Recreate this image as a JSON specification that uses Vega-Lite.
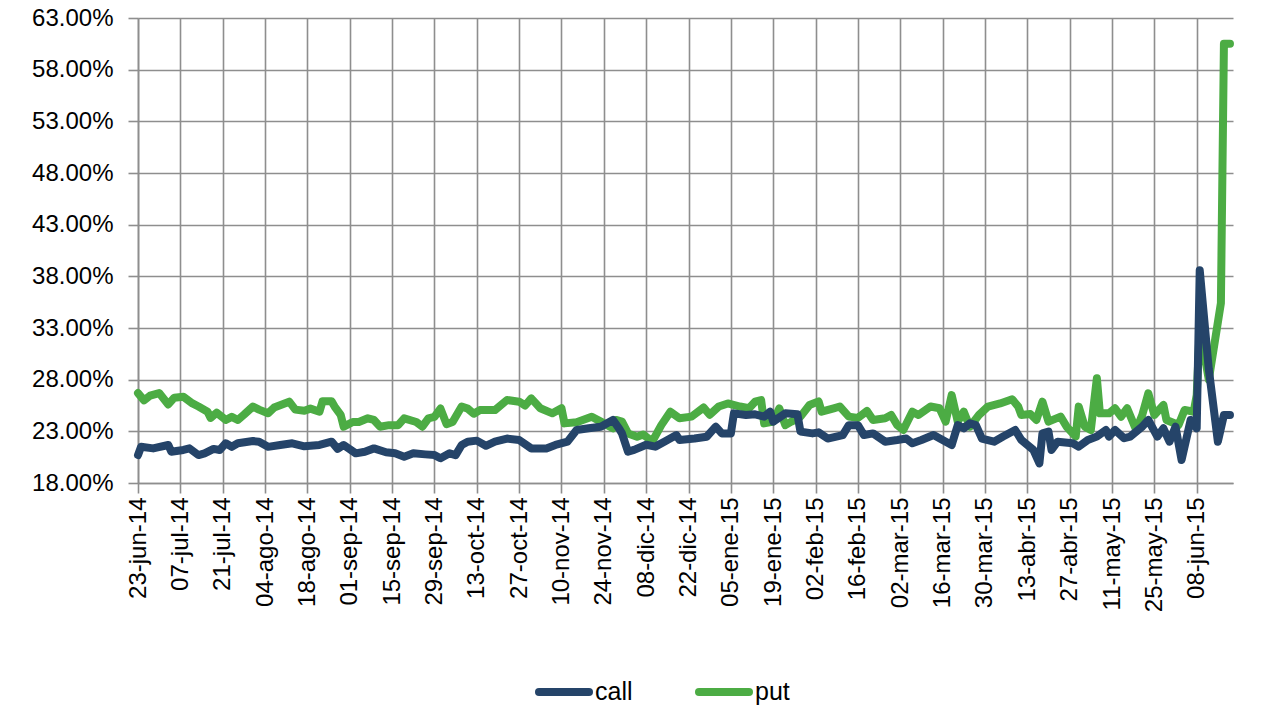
{
  "$schema": "https://vega.github.io/schema/vega-lite/v6.json",
  "autosize": {"type": "none"},
  "padding": {"left": 138, "top": 18, "right": 29, "bottom": 224},
  "width": 1095,
  "height": 465,
  "background": "white",
  "config": {
    "locale": {"time": {"dateTime": "%A, %e de %B de %Y, %X", "date": "%d/%m/%Y", "time": "%H:%M:%S", "periods": ["AM", "PM"], "days": ["domingo", "lunes", "martes", "miércoles", "jueves", "viernes", "sábado"], "shortDays": ["dom", "lun", "mar", "mié", "jue", "vie", "sáb"], "months": ["enero", "febrero", "marzo", "abril", "mayo", "junio", "julio", "agosto", "septiembre", "octubre", "noviembre", "diciembre"], "shortMonths": ["ene", "feb", "mar", "abr", "may", "jun", "jul", "ago", "sep", "oct", "nov", "dic"]}},
    "font": "Liberation Sans",
    "view": {"stroke": null},
    "axis": {"gridColor": "#8e8e8e", "gridWidth": 1.6, "gridOpacity": 1, "domainColor": "#8e8e8e", "domainWidth": 1.6, "tickColor": "#8e8e8e", "tickWidth": 1.6, "tickSize": 10, "labelFontSize": 24, "labelColor": "#000000", "labelFlush": false, "labelOverlap": false, "title": null}
  },
  "data": {"values": [
    {"date": "2014-06-23", "series": "put", "value": 26.7},
    {"date": "2014-06-25", "series": "put", "value": 26.0},
    {"date": "2014-06-27", "series": "put", "value": 26.45},
    {"date": "2014-06-30", "series": "put", "value": 26.7},
    {"date": "2014-07-03", "series": "put", "value": 25.6},
    {"date": "2014-07-05", "series": "put", "value": 26.26},
    {"date": "2014-07-08", "series": "put", "value": 26.35},
    {"date": "2014-07-11", "series": "put", "value": 25.7},
    {"date": "2014-07-13", "series": "put", "value": 25.4},
    {"date": "2014-07-16", "series": "put", "value": 24.9},
    {"date": "2014-07-17", "series": "put", "value": 24.3},
    {"date": "2014-07-19", "series": "put", "value": 24.8},
    {"date": "2014-07-22", "series": "put", "value": 24.1},
    {"date": "2014-07-24", "series": "put", "value": 24.4},
    {"date": "2014-07-26", "series": "put", "value": 24.1},
    {"date": "2014-07-28", "series": "put", "value": 24.6},
    {"date": "2014-07-31", "series": "put", "value": 25.4},
    {"date": "2014-08-02", "series": "put", "value": 25.1},
    {"date": "2014-08-05", "series": "put", "value": 24.75},
    {"date": "2014-08-07", "series": "put", "value": 25.3},
    {"date": "2014-08-12", "series": "put", "value": 25.87},
    {"date": "2014-08-14", "series": "put", "value": 25.1},
    {"date": "2014-08-17", "series": "put", "value": 25.0},
    {"date": "2014-08-19", "series": "put", "value": 25.2},
    {"date": "2014-08-22", "series": "put", "value": 24.9},
    {"date": "2014-08-23", "series": "put", "value": 25.9},
    {"date": "2014-08-26", "series": "put", "value": 25.9},
    {"date": "2014-08-27", "series": "put", "value": 25.4},
    {"date": "2014-08-29", "series": "put", "value": 24.6},
    {"date": "2014-08-30", "series": "put", "value": 23.45},
    {"date": "2014-09-02", "series": "put", "value": 23.9},
    {"date": "2014-09-04", "series": "put", "value": 23.9},
    {"date": "2014-09-07", "series": "put", "value": 24.26},
    {"date": "2014-09-09", "series": "put", "value": 24.1},
    {"date": "2014-09-11", "series": "put", "value": 23.45},
    {"date": "2014-09-14", "series": "put", "value": 23.6},
    {"date": "2014-09-17", "series": "put", "value": 23.6},
    {"date": "2014-09-19", "series": "put", "value": 24.26},
    {"date": "2014-09-23", "series": "put", "value": 23.9},
    {"date": "2014-09-25", "series": "put", "value": 23.45},
    {"date": "2014-09-27", "series": "put", "value": 24.26},
    {"date": "2014-09-29", "series": "put", "value": 24.4},
    {"date": "2014-10-01", "series": "put", "value": 25.2},
    {"date": "2014-10-03", "series": "put", "value": 23.7},
    {"date": "2014-10-05", "series": "put", "value": 23.9},
    {"date": "2014-10-08", "series": "put", "value": 25.4},
    {"date": "2014-10-10", "series": "put", "value": 25.2},
    {"date": "2014-10-12", "series": "put", "value": 24.7},
    {"date": "2014-10-14", "series": "put", "value": 25.06},
    {"date": "2014-10-16", "series": "put", "value": 25.06},
    {"date": "2014-10-19", "series": "put", "value": 25.06},
    {"date": "2014-10-23", "series": "put", "value": 26.03},
    {"date": "2014-10-27", "series": "put", "value": 25.87},
    {"date": "2014-10-29", "series": "put", "value": 25.5},
    {"date": "2014-10-31", "series": "put", "value": 26.19},
    {"date": "2014-11-03", "series": "put", "value": 25.23},
    {"date": "2014-11-07", "series": "put", "value": 24.74},
    {"date": "2014-11-10", "series": "put", "value": 25.23},
    {"date": "2014-11-11", "series": "put", "value": 23.77},
    {"date": "2014-11-15", "series": "put", "value": 23.87},
    {"date": "2014-11-20", "series": "put", "value": 24.42},
    {"date": "2014-11-23", "series": "put", "value": 23.94},
    {"date": "2014-11-27", "series": "put", "value": 23.29},
    {"date": "2014-11-28", "series": "put", "value": 24.1},
    {"date": "2014-11-30", "series": "put", "value": 23.94},
    {"date": "2014-12-02", "series": "put", "value": 22.8},
    {"date": "2014-12-05", "series": "put", "value": 22.48},
    {"date": "2014-12-07", "series": "put", "value": 22.7},
    {"date": "2014-12-10", "series": "put", "value": 22.0},
    {"date": "2014-12-13", "series": "put", "value": 23.6},
    {"date": "2014-12-16", "series": "put", "value": 24.9},
    {"date": "2014-12-19", "series": "put", "value": 24.26},
    {"date": "2014-12-23", "series": "put", "value": 24.42},
    {"date": "2014-12-27", "series": "put", "value": 25.3},
    {"date": "2014-12-29", "series": "put", "value": 24.6},
    {"date": "2015-01-01", "series": "put", "value": 25.4},
    {"date": "2015-01-04", "series": "put", "value": 25.7},
    {"date": "2015-01-08", "series": "put", "value": 25.4},
    {"date": "2015-01-11", "series": "put", "value": 25.23},
    {"date": "2015-01-13", "series": "put", "value": 25.87},
    {"date": "2015-01-15", "series": "put", "value": 26.03},
    {"date": "2015-01-16", "series": "put", "value": 23.77},
    {"date": "2015-01-19", "series": "put", "value": 23.94},
    {"date": "2015-01-21", "series": "put", "value": 25.23},
    {"date": "2015-01-23", "series": "put", "value": 23.6},
    {"date": "2015-01-25", "series": "put", "value": 23.94},
    {"date": "2015-01-28", "series": "put", "value": 24.42},
    {"date": "2015-01-31", "series": "put", "value": 25.55},
    {"date": "2015-02-03", "series": "put", "value": 25.9},
    {"date": "2015-02-04", "series": "put", "value": 24.9},
    {"date": "2015-02-08", "series": "put", "value": 25.23},
    {"date": "2015-02-10", "series": "put", "value": 25.4},
    {"date": "2015-02-13", "series": "put", "value": 24.42},
    {"date": "2015-02-16", "series": "put", "value": 24.3},
    {"date": "2015-02-19", "series": "put", "value": 24.97},
    {"date": "2015-02-21", "series": "put", "value": 24.1},
    {"date": "2015-02-25", "series": "put", "value": 24.26},
    {"date": "2015-02-27", "series": "put", "value": 24.58},
    {"date": "2015-03-01", "series": "put", "value": 23.6},
    {"date": "2015-03-03", "series": "put", "value": 23.13},
    {"date": "2015-03-06", "series": "put", "value": 24.9},
    {"date": "2015-03-08", "series": "put", "value": 24.58},
    {"date": "2015-03-12", "series": "put", "value": 25.4},
    {"date": "2015-03-15", "series": "put", "value": 25.23},
    {"date": "2015-03-17", "series": "put", "value": 23.94},
    {"date": "2015-03-19", "series": "put", "value": 26.5},
    {"date": "2015-03-21", "series": "put", "value": 23.94},
    {"date": "2015-03-23", "series": "put", "value": 24.9},
    {"date": "2015-03-25", "series": "put", "value": 23.45},
    {"date": "2015-03-28", "series": "put", "value": 24.58},
    {"date": "2015-03-31", "series": "put", "value": 25.4},
    {"date": "2015-04-04", "series": "put", "value": 25.7},
    {"date": "2015-04-08", "series": "put", "value": 26.1},
    {"date": "2015-04-10", "series": "put", "value": 25.39},
    {"date": "2015-04-11", "series": "put", "value": 24.58},
    {"date": "2015-04-14", "series": "put", "value": 24.68},
    {"date": "2015-04-16", "series": "put", "value": 24.1},
    {"date": "2015-04-18", "series": "put", "value": 25.87},
    {"date": "2015-04-20", "series": "put", "value": 23.94},
    {"date": "2015-04-24", "series": "put", "value": 24.42},
    {"date": "2015-04-26", "series": "put", "value": 23.45},
    {"date": "2015-04-29", "series": "put", "value": 22.49},
    {"date": "2015-04-30", "series": "put", "value": 25.39},
    {"date": "2015-05-02", "series": "put", "value": 23.45},
    {"date": "2015-05-04", "series": "put", "value": 23.13},
    {"date": "2015-05-06", "series": "put", "value": 28.13},
    {"date": "2015-05-07", "series": "put", "value": 24.74},
    {"date": "2015-05-10", "series": "put", "value": 24.74},
    {"date": "2015-05-12", "series": "put", "value": 25.23},
    {"date": "2015-05-14", "series": "put", "value": 24.42},
    {"date": "2015-05-16", "series": "put", "value": 25.23},
    {"date": "2015-05-19", "series": "put", "value": 23.13},
    {"date": "2015-05-21", "series": "put", "value": 24.58},
    {"date": "2015-05-23", "series": "put", "value": 26.68},
    {"date": "2015-05-25", "series": "put", "value": 24.58},
    {"date": "2015-05-28", "series": "put", "value": 25.55},
    {"date": "2015-05-29", "series": "put", "value": 24.1},
    {"date": "2015-06-02", "series": "put", "value": 23.61},
    {"date": "2015-06-04", "series": "put", "value": 25.07},
    {"date": "2015-06-07", "series": "put", "value": 24.9},
    {"date": "2015-06-08", "series": "put", "value": 26.5},
    {"date": "2015-06-09", "series": "put", "value": 33.0},
    {"date": "2015-06-12", "series": "put", "value": 28.0},
    {"date": "2015-06-16", "series": "put", "value": 35.4},
    {"date": "2015-06-17", "series": "put", "value": 60.5},
    {"date": "2015-06-19", "series": "put", "value": 60.5},
    {"date": "2014-06-23", "series": "call", "value": 20.7},
    {"date": "2014-06-24", "series": "call", "value": 21.5},
    {"date": "2014-06-28", "series": "call", "value": 21.35},
    {"date": "2014-07-03", "series": "call", "value": 21.68},
    {"date": "2014-07-04", "series": "call", "value": 21.03},
    {"date": "2014-07-08", "series": "call", "value": 21.2},
    {"date": "2014-07-10", "series": "call", "value": 21.35},
    {"date": "2014-07-13", "series": "call", "value": 20.7},
    {"date": "2014-07-15", "series": "call", "value": 20.87},
    {"date": "2014-07-18", "series": "call", "value": 21.3},
    {"date": "2014-07-20", "series": "call", "value": 21.2},
    {"date": "2014-07-22", "series": "call", "value": 21.84},
    {"date": "2014-07-24", "series": "call", "value": 21.5},
    {"date": "2014-07-26", "series": "call", "value": 21.84},
    {"date": "2014-07-31", "series": "call", "value": 22.06},
    {"date": "2014-08-02", "series": "call", "value": 22.0},
    {"date": "2014-08-05", "series": "call", "value": 21.5},
    {"date": "2014-08-09", "series": "call", "value": 21.68},
    {"date": "2014-08-13", "series": "call", "value": 21.84},
    {"date": "2014-08-17", "series": "call", "value": 21.55},
    {"date": "2014-08-22", "series": "call", "value": 21.68},
    {"date": "2014-08-26", "series": "call", "value": 22.0},
    {"date": "2014-08-28", "series": "call", "value": 21.3},
    {"date": "2014-08-30", "series": "call", "value": 21.68},
    {"date": "2014-09-03", "series": "call", "value": 20.87},
    {"date": "2014-09-06", "series": "call", "value": 21.03},
    {"date": "2014-09-09", "series": "call", "value": 21.35},
    {"date": "2014-09-13", "series": "call", "value": 20.97},
    {"date": "2014-09-16", "series": "call", "value": 20.87},
    {"date": "2014-09-19", "series": "call", "value": 20.55},
    {"date": "2014-09-22", "series": "call", "value": 20.87},
    {"date": "2014-09-26", "series": "call", "value": 20.77},
    {"date": "2014-09-29", "series": "call", "value": 20.7},
    {"date": "2014-10-01", "series": "call", "value": 20.39},
    {"date": "2014-10-04", "series": "call", "value": 20.87},
    {"date": "2014-10-06", "series": "call", "value": 20.7},
    {"date": "2014-10-08", "series": "call", "value": 21.68},
    {"date": "2014-10-10", "series": "call", "value": 22.0},
    {"date": "2014-10-13", "series": "call", "value": 22.1},
    {"date": "2014-10-16", "series": "call", "value": 21.6},
    {"date": "2014-10-19", "series": "call", "value": 22.0},
    {"date": "2014-10-23", "series": "call", "value": 22.3},
    {"date": "2014-10-27", "series": "call", "value": 22.16},
    {"date": "2014-10-31", "series": "call", "value": 21.35},
    {"date": "2014-11-05", "series": "call", "value": 21.35},
    {"date": "2014-11-08", "series": "call", "value": 21.68},
    {"date": "2014-11-12", "series": "call", "value": 22.0},
    {"date": "2014-11-15", "series": "call", "value": 23.13},
    {"date": "2014-11-19", "series": "call", "value": 23.29},
    {"date": "2014-11-23", "series": "call", "value": 23.45},
    {"date": "2014-11-27", "series": "call", "value": 24.1},
    {"date": "2014-11-29", "series": "call", "value": 23.29},
    {"date": "2014-11-30", "series": "call", "value": 22.8},
    {"date": "2014-12-02", "series": "call", "value": 21.03},
    {"date": "2014-12-04", "series": "call", "value": 21.2},
    {"date": "2014-12-08", "series": "call", "value": 21.7},
    {"date": "2014-12-11", "series": "call", "value": 21.52},
    {"date": "2014-12-14", "series": "call", "value": 22.0},
    {"date": "2014-12-18", "series": "call", "value": 22.64},
    {"date": "2014-12-19", "series": "call", "value": 22.16},
    {"date": "2014-12-24", "series": "call", "value": 22.3},
    {"date": "2014-12-28", "series": "call", "value": 22.48},
    {"date": "2014-12-31", "series": "call", "value": 23.45},
    {"date": "2015-01-02", "series": "call", "value": 22.8},
    {"date": "2015-01-05", "series": "call", "value": 22.8},
    {"date": "2015-01-06", "series": "call", "value": 24.74},
    {"date": "2015-01-10", "series": "call", "value": 24.58},
    {"date": "2015-01-13", "series": "call", "value": 24.65},
    {"date": "2015-01-16", "series": "call", "value": 24.42},
    {"date": "2015-01-18", "series": "call", "value": 24.9},
    {"date": "2015-01-19", "series": "call", "value": 23.94},
    {"date": "2015-01-23", "series": "call", "value": 24.74},
    {"date": "2015-01-27", "series": "call", "value": 24.65},
    {"date": "2015-01-28", "series": "call", "value": 22.97},
    {"date": "2015-02-01", "series": "call", "value": 22.8},
    {"date": "2015-02-03", "series": "call", "value": 22.9},
    {"date": "2015-02-06", "series": "call", "value": 22.3},
    {"date": "2015-02-11", "series": "call", "value": 22.64},
    {"date": "2015-02-13", "series": "call", "value": 23.6},
    {"date": "2015-02-16", "series": "call", "value": 23.6},
    {"date": "2015-02-18", "series": "call", "value": 22.64},
    {"date": "2015-02-21", "series": "call", "value": 22.8},
    {"date": "2015-02-25", "series": "call", "value": 22.0},
    {"date": "2015-03-01", "series": "call", "value": 22.16},
    {"date": "2015-03-04", "series": "call", "value": 22.3},
    {"date": "2015-03-06", "series": "call", "value": 21.84},
    {"date": "2015-03-09", "series": "call", "value": 22.16},
    {"date": "2015-03-13", "series": "call", "value": 22.64},
    {"date": "2015-03-16", "series": "call", "value": 22.16},
    {"date": "2015-03-19", "series": "call", "value": 21.68},
    {"date": "2015-03-21", "series": "call", "value": 23.6},
    {"date": "2015-03-23", "series": "call", "value": 23.29},
    {"date": "2015-03-25", "series": "call", "value": 23.77},
    {"date": "2015-03-27", "series": "call", "value": 23.6},
    {"date": "2015-03-29", "series": "call", "value": 22.3},
    {"date": "2015-04-02", "series": "call", "value": 22.0},
    {"date": "2015-04-05", "series": "call", "value": 22.5},
    {"date": "2015-04-09", "series": "call", "value": 23.13},
    {"date": "2015-04-11", "series": "call", "value": 22.17},
    {"date": "2015-04-15", "series": "call", "value": 21.2},
    {"date": "2015-04-17", "series": "call", "value": 19.9},
    {"date": "2015-04-18", "series": "call", "value": 22.81},
    {"date": "2015-04-20", "series": "call", "value": 22.97},
    {"date": "2015-04-21", "series": "call", "value": 21.2},
    {"date": "2015-04-23", "series": "call", "value": 22.0},
    {"date": "2015-04-28", "series": "call", "value": 21.84},
    {"date": "2015-04-30", "series": "call", "value": 21.52},
    {"date": "2015-05-03", "series": "call", "value": 22.17},
    {"date": "2015-05-06", "series": "call", "value": 22.49},
    {"date": "2015-05-09", "series": "call", "value": 23.13},
    {"date": "2015-05-10", "series": "call", "value": 22.49},
    {"date": "2015-05-12", "series": "call", "value": 23.13},
    {"date": "2015-05-15", "series": "call", "value": 22.33},
    {"date": "2015-05-17", "series": "call", "value": 22.49},
    {"date": "2015-05-21", "series": "call", "value": 23.45},
    {"date": "2015-05-23", "series": "call", "value": 24.1},
    {"date": "2015-05-26", "series": "call", "value": 22.49},
    {"date": "2015-05-28", "series": "call", "value": 23.29},
    {"date": "2015-05-30", "series": "call", "value": 22.0},
    {"date": "2015-06-01", "series": "call", "value": 23.45},
    {"date": "2015-06-03", "series": "call", "value": 20.23},
    {"date": "2015-06-06", "series": "call", "value": 24.1},
    {"date": "2015-06-08", "series": "call", "value": 23.29},
    {"date": "2015-06-09", "series": "call", "value": 38.6},
    {"date": "2015-06-12", "series": "call", "value": 29.0},
    {"date": "2015-06-15", "series": "call", "value": 22.0},
    {"date": "2015-06-17", "series": "call", "value": 24.58},
    {"date": "2015-06-19", "series": "call", "value": 24.58}
  ]},
  "mark": {"type": "line", "strokeWidth": 8, "strokeCap": "round", "strokeJoin": "round"},
  "encoding": {
    "x": {
      "field": "date", "type": "temporal",
      "scale": {"type": "utc", "domain": [{"year": 2014, "month": 6, "date": 23, "utc": true}, {"year": 2015, "month": 6, "date": 20, "utc": true}]},
      "axis": {
        "values": [
          {"year": 2014, "month": 6, "date": 23, "utc": true},
          {"year": 2014, "month": 7, "date": 7, "utc": true},
          {"year": 2014, "month": 7, "date": 21, "utc": true},
          {"year": 2014, "month": 8, "date": 4, "utc": true},
          {"year": 2014, "month": 8, "date": 18, "utc": true},
          {"year": 2014, "month": 9, "date": 1, "utc": true},
          {"year": 2014, "month": 9, "date": 15, "utc": true},
          {"year": 2014, "month": 9, "date": 29, "utc": true},
          {"year": 2014, "month": 10, "date": 13, "utc": true},
          {"year": 2014, "month": 10, "date": 27, "utc": true},
          {"year": 2014, "month": 11, "date": 10, "utc": true},
          {"year": 2014, "month": 11, "date": 24, "utc": true},
          {"year": 2014, "month": 12, "date": 8, "utc": true},
          {"year": 2014, "month": 12, "date": 22, "utc": true},
          {"year": 2015, "month": 1, "date": 5, "utc": true},
          {"year": 2015, "month": 1, "date": 19, "utc": true},
          {"year": 2015, "month": 2, "date": 2, "utc": true},
          {"year": 2015, "month": 2, "date": 16, "utc": true},
          {"year": 2015, "month": 3, "date": 2, "utc": true},
          {"year": 2015, "month": 3, "date": 16, "utc": true},
          {"year": 2015, "month": 3, "date": 30, "utc": true},
          {"year": 2015, "month": 4, "date": 13, "utc": true},
          {"year": 2015, "month": 4, "date": 27, "utc": true},
          {"year": 2015, "month": 5, "date": 11, "utc": true},
          {"year": 2015, "month": 5, "date": 25, "utc": true},
          {"year": 2015, "month": 6, "date": 8, "utc": true}
        ],
        "labelExpr": "utcFormat(datum.value, '%d-%b-%y')",
        "labelAngle": -90,
        "labelPadding": 4,
        "grid": true
      }
    },
    "y": {
      "field": "value", "type": "quantitative",
      "scale": {"domain": [18, 63], "nice": false, "zero": false},
      "axis": {
        "values": [18, 23, 28, 33, 38, 43, 48, 53, 58, 63],
        "labelExpr": "format(datum.value, '.2f') + '%'",
        "labelPadding": 15,
        "grid": true
      }
    },
    "color": {
      "field": "series", "type": "nominal",
      "scale": {"domain": ["call", "put"], "range": ["#254469", "#4CAC44"]},
      "legend": {
        "orient": "none", "legendX": 397, "legendY": 645, "direction": "horizontal",
        "title": null, "symbolType": "stroke", "symbolSize": 2500, "symbolStrokeWidth": 8,
        "labelFontSize": 25, "labelColor": "#000000", "labelOffset": 2, "columnPadding": 50,
        "encode": {"symbols": {"update": {"strokeCap": {"value": "round"}}}}
      }
    }
  }
}
